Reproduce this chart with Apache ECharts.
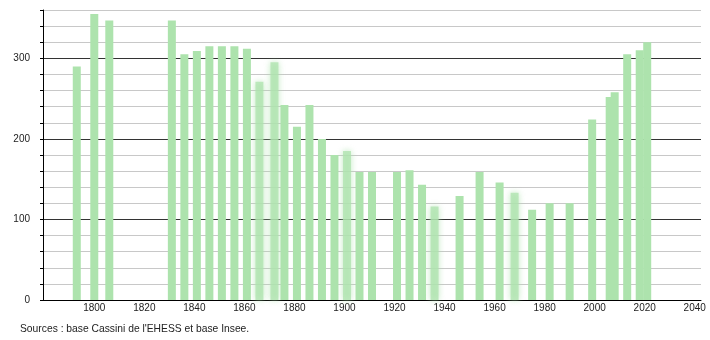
<!DOCTYPE html>
<html>
<head>
<meta charset="utf-8">
<script src="https://cdn.jsdelivr.net/npm/echarts@6/dist/echarts.min.js"></script>
<style>
html,body{margin:0;padding:0;background:#fff;}
#chart{width:710px;height:340px;}
</style>
</head>
<body>
<div id="chart"></div>
<script>
// Census years and population values
const years = [1793,1800,1806,1831,1836,1841,1846,1851,1856,1861,1866,1872,1876,1881,1886,1891,1896,1901,1906,1911,1921,1926,1931,1936,1946,1954,1962,1968,1975,1982,1990,1999,2006,2008,2013,2018,2021];
const population = [290,355,347,347,305,309,315,315,315,312,271,295,242,215,242,200,180,185,159,159,159,161,143,116,129,159,146,133,112,120,120,224,252,258,305,310,320];
const xTickLabels = [1800,1820,1840,1860,1880,1900,1920,1940,1960,1980,2000,2020,2040];
const yTickLabels = [0,100,200,300];
const sourceText = "Sources : base Cassini de l'EHESS et base Insee.";

// style only: bars drawn with a soft edge in the reference
const softYears = [1866,1872,1901,1936,1968];

const barColor = '#ade3ad';
const data = years.map((y, i) => {
  const item = { value: [y, population[i]] };
  if (softYears.includes(y)) {
    item.itemStyle = { color: 'rgba(173,227,173,0.75)', shadowBlur: 6, shadowColor: 'rgba(173,227,173,1)' };
  }
  return item;
});

const chart = echarts.init(document.getElementById('chart'), null, { renderer: 'canvas' });
chart.setOption({
  animation: false,
  textStyle: { fontFamily: 'Liberation Sans, Arial, sans-serif' },
  grid: { left: 43, right: 9, top: 10, bottom: 40, containLabel: false },
  xAxis: {
    type: 'value',
    min: 1779.5,
    max: 2042.5,
    interval: 0.5,
    axisLine: { show: true, lineStyle: { color: '#000', width: 1 } },
    axisTick: { show: false },
    splitLine: { show: false },
    axisLabel: {
      color: '#222',
      fontSize: 10,
      margin: 3,
      showMinLabel: false,
      showMaxLabel: false,
      formatter: v => xTickLabels.includes(v) ? String(v) : ''
    }
  },
  yAxis: {
    type: 'value',
    min: 0,
    max: 360,
    interval: 20,
    axisLine: { show: true, lineStyle: { color: '#000', width: 1 } },
    axisTick: { show: true, length: 3, lineStyle: { color: '#000' } },
    splitLine: {
      show: true,
      lineStyle: { color: ['#333', '#c8c8c8', '#c8c8c8', '#c8c8c8', '#c8c8c8'], width: 1 }
    },
    axisLabel: {
      color: '#222',
      fontSize: 10,
      margin: 13,
      formatter: v => yTickLabels.includes(v) ? String(v) : ''
    }
  },
  series: [{
    type: 'bar',
    barWidth: 8,
    itemStyle: { color: barColor },
    data: data
  }],
  graphic: [{
    type: 'text',
    left: 20,
    top: 324,
    style: { text: sourceText, fontSize: 10.3, fill: '#222', fontFamily: 'Liberation Sans, Arial, sans-serif' }
  }]
});
</script>
</body>
</html>
